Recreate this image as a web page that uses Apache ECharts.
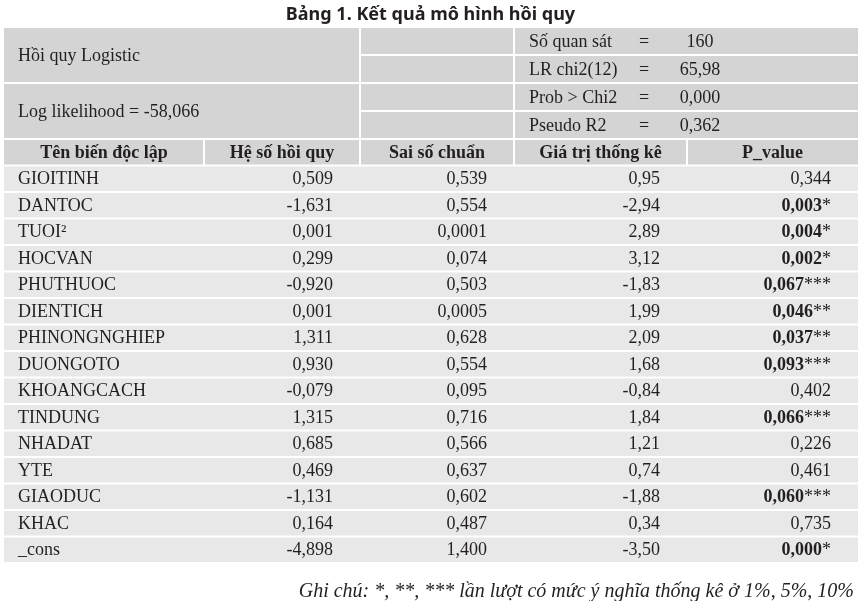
<!DOCTYPE html>
<html>
<head>
<meta charset="utf-8">
<script src="https://cdn.jsdelivr.net/npm/echarts@6/dist/echarts.min.js"></script>
<style>
  html, body { margin: 0; width: 100%; height: 100%; background: #fff; }
  #main { width: 861px; height: 601px; }
</style>
</head>
<body>
<div id="main"></div>
<script>
// ---- data ----
var modelInfo = ['Hồi quy Logistic', 'Log likelihood = -58,066'];
var statLabels = ['Số quan sát', 'LR chi2(12)', 'Prob > Chi2', 'Pseudo R2'];
var statValues = ['160', '65,98', '0,000', '0,362'];

var headers = ['Tên biến độc lập', 'Hệ số hồi quy', 'Sai số chuẩn', 'Giá trị thống kê', 'P_value'];
var variables = ['GIOITINH', 'DANTOC', 'TUOI²', 'HOCVAN', 'PHUTHUOC', 'DIENTICH', 'PHINONGNGHIEP',
  'DUONGOTO', 'KHOANGCACH', 'TINDUNG', 'NHADAT', 'YTE', 'GIAODUC', 'KHAC', '_cons'];
var coefs = [0.509, -1.631, 0.001, 0.299, -0.920, 0.001, 1.311, 0.930, -0.079, 1.315, 0.685, 0.469, -1.131, 0.164, -4.898];
var stdErrs = [0.539, 0.554, 0.0001, 0.074, 0.503, 0.0005, 0.628, 0.554, 0.095, 0.716, 0.566, 0.637, 0.602, 0.487, 1.400];
var zStats = [0.95, -2.94, 2.89, 3.12, -1.83, 1.99, 2.09, 1.68, -0.84, 1.84, 1.21, 0.74, -1.88, 0.34, -3.50];
var pValues = [0.344, 0.003, 0.004, 0.002, 0.067, 0.046, 0.037, 0.093, 0.402, 0.066, 0.226, 0.461, 0.060, 0.735, 0.000];
var stars = ['', '*', '*', '*', '***', '**', '**', '***', '', '***', '', '', '***', '', '*'];

var note = 'Ghi chú: *, **, *** lần lượt có mức ý nghĩa thống kê ở 1%, 5%, 10%';

// ---- layout ----
var colEdges = [0, 200, 356, 510, 683, 854];   // x-axis units (1 unit = 1px)
var pad = 27;
var serif = '"Liberation Serif", "Times New Roman", serif';
var darkFill = '#d4d4d4';
var lightFill = '#e8e8e8';
var ink = '#231f20';

function num(v, d) {
  return v.toFixed(d).replace('.', ',');
}

function band(api, x0, x1, r, span) {
  var p0 = api.coord([x0, r]);
  var p1 = api.coord([x1, r]);
  var h = api.size([0, 1])[1];
  return { x: p0[0], y: p0[1] - h / 2, w: p1[0] - p0[0], h: h * (span || 1), cy: p0[1] - h / 2 + h * (span || 1) / 2 + 1 };
}

function rect(b, fill, gapL, gapR) {
  return {
    type: 'rect',
    shape: { x: b.x + gapL, y: b.y + 1, width: b.w - gapL - gapR, height: b.h - 2 },
    style: { fill: fill }
  };
}

function text(x, y, str, align, weight, rich) {
  var st = { text: str, x: x, y: y, fill: ink, fontFamily: serif, fontSize: 18,
    fontWeight: weight || 'normal', align: align, verticalAlign: 'middle' };
  if (rich) st.rich = rich;
  return { type: 'text', style: st };
}

// top block (model info + fit stats)
function renderTop(params, api) {
  var r = api.value(1);
  var kids = [];
  if (r === 0 || r === 2) {
    var bl = band(api, colEdges[0], colEdges[2], r, 2);
    kids.push(rect(bl, darkFill, 0, 1));
    kids.push(text(bl.x + 14, bl.cy, modelInfo[r / 2], 'left'));
  }
  var bm = band(api, colEdges[2], colEdges[3], r);
  kids.push(rect(bm, darkFill, 1, 1));
  var br = band(api, colEdges[3], colEdges[5], r);
  kids.push(rect(br, darkFill, 1, 0));
  kids.push(text(br.x + 15, br.cy, statLabels[r], 'left'));
  kids.push(text(br.x + 130, br.cy, '=', 'center'));
  kids.push(text(br.x + 186, br.cy, statValues[r], 'center'));
  return { type: 'group', children: kids };
}

// header row + variable rows
function renderBody(params, api) {
  var r = api.value(1);
  var kids = [];
  if (r === 0) {
    for (var c = 0; c < headers.length; c++) {
      var b = band(api, colEdges[c], colEdges[c + 1], r);
      kids.push(rect(b, darkFill, c > 0 ? 1 : 0, c < headers.length - 1 ? 1 : 0));
      kids.push(text(b.x + b.w / 2, b.cy, headers[c], 'center', 'bold'));
    }
    return { type: 'group', children: kids };
  }
  var i = r - 1;
  var full = band(api, colEdges[0], colEdges[5], r);
  kids.push(rect(full, lightFill, 0, 0));
  kids.push(text(full.x + 14, full.cy, variables[i], 'left'));
  var cells = [
    num(coefs[i], 3),
    num(stdErrs[i], stdErrs[i] < 0.001 ? 4 : 3),
    num(zStats[i], 2)
  ];
  for (var k = 0; k < 3; k++) {
    var bc = band(api, colEdges[k + 1], colEdges[k + 2], r);
    kids.push(text(bc.x + bc.w - pad, bc.cy, cells[k], 'right'));
  }
  var bp = band(api, colEdges[4], colEdges[5], r);
  if (stars[i]) {
    kids.push(text(bp.x + bp.w - pad, bp.cy, '{b|' + num(pValues[i], 3) + '}{s|' + stars[i] + '}', 'right', 'normal', {
      b: { fontFamily: serif, fontSize: 18, fontWeight: 'bold', fill: ink },
      s: { fontFamily: serif, fontSize: 18, fontWeight: 'normal', fill: ink }
    }));
  } else {
    kids.push(text(bp.x + bp.w - pad, bp.cy, num(pValues[i], 3), 'right'));
  }
  return { type: 'group', children: kids };
}

var topRows = statLabels.map(function (s, i) { return 'r' + i; });
var bodyRows = ['h'].concat(variables);

var chart = echarts.init(document.getElementById('main'));
var option = {
  animation: false,
  title: [
    {
      text: 'Bảng 1. Kết quả mô hình hồi quy',
      left: 'center', top: 1,
      textStyle: { fontFamily: '"Noto Sans", "DejaVu Sans", sans-serif', fontSize: 18, fontWeight: 'bold', color: ink }
    },
    {
      text: note,
      right: 2, top: 577,
      textStyle: { fontFamily: serif, fontSize: 20, fontStyle: 'italic', fontWeight: 'normal', color: ink }
    }
  ],
  grid: [
    { left: 4, width: 854, top: 27, height: 112 },
    { left: 4, width: 854, top: 139, height: 424 }
  ],
  xAxis: [
    { type: 'value', gridIndex: 0, min: 0, max: 854, show: false },
    { type: 'value', gridIndex: 1, min: 0, max: 854, show: false }
  ],
  yAxis: [
    { type: 'category', gridIndex: 0, data: topRows, inverse: true, show: false },
    { type: 'category', gridIndex: 1, data: bodyRows, inverse: true, show: false }
  ],
  series: [
    {
      type: 'custom', xAxisIndex: 0, yAxisIndex: 0,
      renderItem: renderTop,
      encode: { x: 0, y: 1 },
      data: topRows.map(function (n, i) { return [0, i]; })
    },
    {
      type: 'custom', xAxisIndex: 1, yAxisIndex: 1,
      renderItem: renderBody,
      encode: { x: 0, y: 1 },
      data: bodyRows.map(function (n, i) { return [0, i]; })
    }
  ]
};
chart.setOption(option);
window.onresize = chart.resize;
</script>
</body>
</html>
